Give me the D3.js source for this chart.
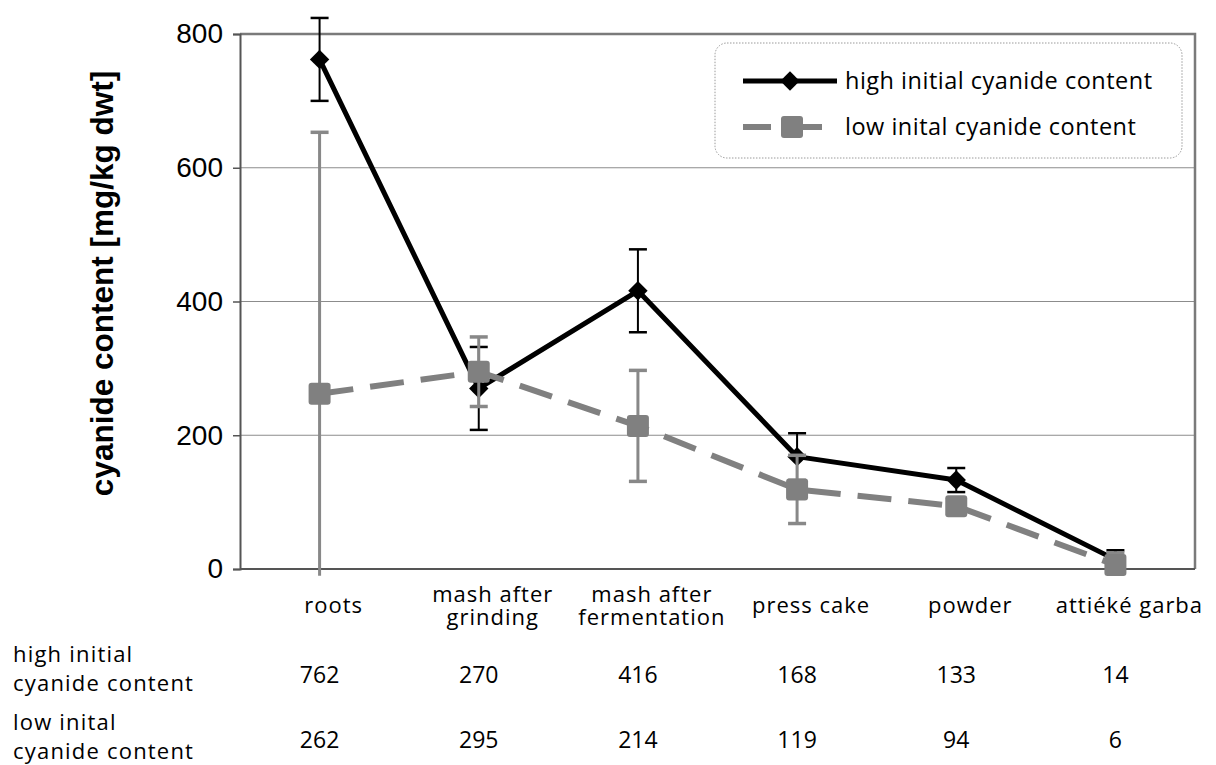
<!DOCTYPE html>
<html>
<head>
<meta charset="utf-8">
<script src="https://cdn.jsdelivr.net/npm/d3@7"></script>
<style>
  html, body { margin: 0; padding: 0; background: #fff; }
  svg { display: block; }
</style>
</head>
<body>
<svg id="chart" width="1216" height="765"></svg>
<script>
// ---- data ----
const categories = [["roots"], ["mash after", "grinding"], ["mash after", "fermentation"], ["press cake"], ["powder"], ["attiéké garba"]];
const seriesNames = ["high initial cyanide content", "low inital cyanide content"];
const tableRowLabels = [["high initial", "cyanide content"], ["low inital", "cyanide content"]];
const highValues = [762, 270, 416, 168, 133, 14];
const highErrors = [62, 62, 62, 35, 18, 14];
const lowValues = [262, 295, 214, 119, 94, 6];
const lowErrors = [391, 52, 83, 51, 12, 18];
const yTicks = [0, 200, 400, 600, 800];
const yTitle = "cyanide content [mg/kg dwt]";

// ---- layout ----
const svg = d3.select("#chart");
const plot = { left: 240, right: 1195, top: 34, bottom: 569 };
const catKeys = categories.map((c, i) => i);

const x = d3.scaleBand().domain(catKeys).range([plot.left, plot.right]).padding(0);
const cx = i => x(i) + x.bandwidth() / 2;
const y = d3.scaleLinear().domain([0, 800]).range([plot.bottom, plot.top]);
const yClipMin = -10; // error bars beyond this are cut (no cap)

const sansFont = "'Liberation Sans', Arial, sans-serif";
const labelFont = "'Open Sans', 'Noto Sans', sans-serif";

// gridlines
svg.append("g")
  .selectAll("line")
  .data(yTicks.filter(t => t > 0 && t < 800))
  .join("line")
  .attr("x1", plot.left).attr("x2", plot.right)
  .attr("y1", d => y(d)).attr("y2", d => y(d))
  .attr("stroke", "#8c8c8c").attr("stroke-width", 1.2);

// plot border (top/right gray)
svg.append("path")
  .attr("d", `M${plot.left},${y(800)}H${plot.right}V${plot.bottom}`)
  .attr("fill", "none").attr("stroke", "#7a7a7a").attr("stroke-width", 2.5);

// y axis
const yAxis = d3.axisLeft(y).tickValues(yTicks).tickSize(7).tickPadding(10);
const yg = svg.append("g").attr("transform", `translate(${plot.left},0)`).call(yAxis);
yg.select(".domain").attr("stroke", "#555").attr("stroke-width", 2);
yg.selectAll(".tick line").attr("stroke", "#555").attr("stroke-width", 1.5);
yg.selectAll(".tick text").attr("font-family", sansFont).attr("font-size", 28).attr("fill", "#000");

// x axis line
svg.append("line")
  .attr("x1", plot.left).attr("x2", plot.right)
  .attr("y1", plot.bottom).attr("y2", plot.bottom)
  .attr("stroke", "#555").attr("stroke-width", 2);

// y title
svg.append("text")
  .attr("transform", `translate(113,${(plot.top + plot.bottom) / 2 - 18}) rotate(-90)`)
  .attr("text-anchor", "middle")
  .attr("font-family", sansFont).attr("font-size", 31.5).attr("font-weight", "bold")
  .text(yTitle);

// category labels
const catG = svg.append("g");
categories.forEach((lines, i) => {
  const t = catG.append("text")
    .attr("x", cx(i) + 14)
    .attr("y", lines.length === 1 ? 613 : 602)
    .attr("text-anchor", "middle")
    .attr("font-family", labelFont).attr("font-size", 22).attr("letter-spacing", 1)
    .attr("fill", "#000");
  lines.forEach((ln, k) => t.append("tspan").attr("x", cx(i) + 14).attr("dy", k === 0 ? 0 : 23).text(ln));
});

// ---- series ----
const series = [
  { name: seriesNames[0], values: highValues, errors: highErrors, color: "#000", width: 5, dash: null, errColor: "#000", errWidth: 2, marker: "diamond" },
  { name: seriesNames[1], values: lowValues, errors: lowErrors, color: "#808080", width: 6, dash: "34,17", errColor: "#888", errWidth: 3, marker: "square" }
];

const line = d3.line().x((d, i) => cx(i)).y(d => y(d));

function drawMarker(g, type, px, py, color) {
  if (type === "diamond") {
    g.append("path")
      .attr("d", d3.symbol().type(d3.symbolDiamond2).size(240)())
      .attr("transform", `translate(${px},${py})`)
      .attr("fill", color);
  } else {
    g.append("rect")
      .attr("x", px - 11).attr("y", py - 11).attr("width", 22).attr("height", 22)
      .attr("rx", 3).attr("fill", color);
  }
}

series.forEach(s => {
  const g = svg.append("g");
  g.append("path")
    .attr("d", line(s.values))
    .attr("fill", "none")
    .attr("stroke", s.color).attr("stroke-width", s.width)
    .attr("stroke-dasharray", s.dash)
    .attr("stroke-linejoin", "round");

  // error bars
  s.values.forEach((v, i) => {
    const hi = v + s.errors[i];
    const loRaw = v - s.errors[i];
    const lo = Math.max(loRaw, yClipMin);
    const px = cx(i);
    g.append("line").attr("x1", px).attr("x2", px).attr("y1", y(hi)).attr("y2", y(lo))
      .attr("stroke", s.errColor).attr("stroke-width", s.errWidth);
    g.append("line").attr("x1", px - 9).attr("x2", px + 9).attr("y1", y(hi)).attr("y2", y(hi))
      .attr("stroke", s.errColor).attr("stroke-width", s.errWidth + 0.5);
    if (loRaw >= yClipMin) {
      g.append("line").attr("x1", px - 9).attr("x2", px + 9).attr("y1", y(lo)).attr("y2", y(lo))
        .attr("stroke", s.errColor).attr("stroke-width", s.errWidth + 0.5);
    }
  });

  s.values.forEach((v, i) => drawMarker(g, s.marker, cx(i), y(v), s.color));
});

// ---- legend ----
const lg = svg.append("g");
lg.append("rect")
  .attr("x", 715).attr("y", 43).attr("width", 467).attr("height", 115)
  .attr("rx", 12).attr("fill", "#fff")
  .attr("stroke", "#9a9a9a").attr("stroke-width", 1).attr("stroke-dasharray", "1.5,1.5");
series.forEach((s, k) => {
  const ly = 81 + k * 46;
  lg.append("line").attr("x1", 743).attr("x2", k === 0 ? 837 : 826).attr("y1", ly).attr("y2", ly)
    .attr("stroke", s.color).attr("stroke-width", s.width)
    .attr("stroke-dasharray", s.dash ? "28,23" : null);
  drawMarker(lg, s.marker, k === 0 ? 790 : 792, ly, s.color);
  lg.append("text").attr("x", 845).attr("y", ly + 8)
    .attr("font-family", labelFont).attr("font-size", 23.5).attr("letter-spacing", 0.5)
    .attr("fill", "#000")
    .text(s.name);
});

// ---- data table ----
const tg = svg.append("g");
const rowBase = [662, 730];
tableRowLabels.forEach((lines, r) => {
  const t = tg.append("text").attr("x", 13).attr("y", rowBase[r])
    .attr("font-family", labelFont).attr("font-size", 22).attr("letter-spacing", 1.2)
    .attr("fill", "#000");
  lines.forEach((ln, k) => t.append("tspan").attr("x", 13).attr("dy", k === 0 ? 0 : 29).text(ln));
});
[highValues, lowValues].forEach((vals, r) => {
  tg.selectAll(null).data(vals).join("text")
    .attr("x", (d, i) => cx(i))
    .attr("y", r === 0 ? 683 : 748)
    .attr("text-anchor", "middle")
    .attr("font-family", labelFont).attr("font-size", 23).attr("fill", "#000")
    .text(d => d);
});
</script>
</body>
</html>
